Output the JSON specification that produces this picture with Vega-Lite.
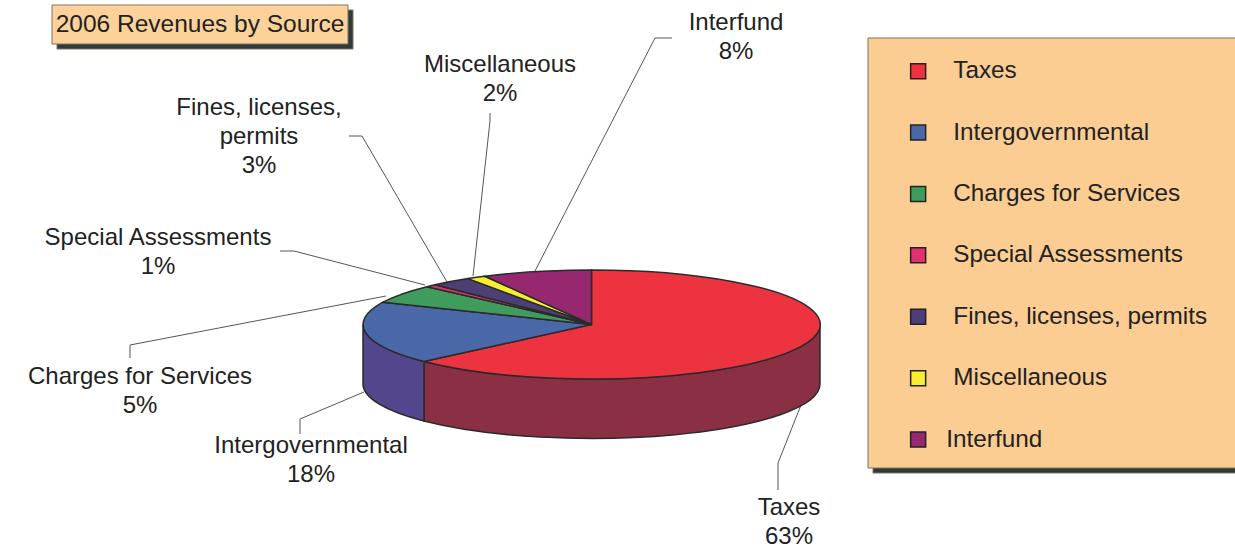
{
"$schema":"https://vega.github.io/schema/vega-lite/v6.json",
"width":1235,"height":550,"padding":0,"autosize":{"type":"none"},
"background":"white",
"config":{"view":{"stroke":null},"text":{"font":"Liberation Sans"},"legend":{"labelFont":"Liberation Sans"}},
"datasets":{
"slices":[
{"source":"Taxes","wall":"Taxes wall","share":63,"label":"Taxes\n63%","lx":789,"ly":508},
{"source":"Intergovernmental","wall":"Intergovernmental wall","share":18,"label":"Intergovernmental\n18%","lx":311,"ly":446},
{"source":"Charges for Services","share":5,"label":"Charges for Services\n5%","lx":140,"ly":377},
{"source":"Special Assessments","share":1,"label":"Special Assessments\n1%","lx":158,"ly":238},
{"source":"Fines, licenses, permits","share":3,"label":"Fines, licenses,\npermits\n3%","lx":259,"ly":108},
{"source":"Miscellaneous","share":2,"label":"Miscellaneous\n2%","lx":500,"ly":65},
{"source":"Interfund","share":8,"label":"Interfund\n8%","lx":736,"ly":23}
],
"leaders":[
{"source":"Taxes","step":1,"px":778,"py":490},{"source":"Taxes","step":2,"px":778,"py":463},{"source":"Taxes","step":3,"px":801,"py":405},
{"source":"Intergovernmental","step":1,"px":300,"py":434},{"source":"Intergovernmental","step":2,"px":300,"py":419},{"source":"Intergovernmental","step":3,"px":364,"py":392},
{"source":"Charges for Services","step":1,"px":130,"py":358},{"source":"Charges for Services","step":2,"px":130,"py":345},{"source":"Charges for Services","step":3,"px":386,"py":296},
{"source":"Special Assessments","step":1,"px":280,"py":251},{"source":"Special Assessments","step":2,"px":294,"py":251},{"source":"Special Assessments","step":3,"px":425,"py":285},
{"source":"Fines, licenses, permits","step":1,"px":349,"py":136},{"source":"Fines, licenses, permits","step":2,"px":362,"py":136},{"source":"Fines, licenses, permits","step":3,"px":447,"py":282},
{"source":"Miscellaneous","step":1,"px":490,"py":113},{"source":"Miscellaneous","step":2,"px":490,"py":121},{"source":"Miscellaneous","step":3,"px":473,"py":276},
{"source":"Interfund","step":1,"px":672,"py":38},{"source":"Interfund","step":2,"px":655,"py":38},{"source":"Interfund","step":3,"px":535,"py":271}
],
"boxes":[
{"box":"shadow","left":873,"right":1240,"top":43,"bottom":473},
{"box":"panel","left":868,"right":1240,"top":38,"bottom":468},
{"box":"shadow","left":57,"right":353,"top":10,"bottom":49},
{"box":"heading","left":52,"right":348,"top":5,"bottom":44}
]
},
"layer":[
{"data":{"name":"boxes"},"mark":{"type":"rect","stroke":"#7d7461","strokeWidth":1},
"encoding":{
"x":{"field":"left","type":"quantitative","scale":{"domain":[0,1235],"range":[0,1235],"nice":false,"zero":false},"axis":null},
"x2":{"field":"right"},
"y":{"field":"top","type":"quantitative","scale":{"domain":[0,550],"range":[0,550],"nice":false,"zero":false},"axis":null},
"y2":{"field":"bottom"},
"fill":{"field":"box","type":"nominal"}
}},
{"data":{"values":[{"heading":"2006 Revenues by Source","tx":200,"ty":25}]},"mark":{"type":"text","fontSize":24.5,"align":"center","baseline":"middle","color":"#222222"},
"encoding":{
"x":{"field":"tx","type":"quantitative","axis":null},
"y":{"field":"ty","type":"quantitative","axis":null},
"text":{"field":"heading"}
}},
{"data":{"name":"leaders"},"mark":{"type":"line","color":"#555555","strokeWidth":1},
"encoding":{
"x":{"field":"px","type":"quantitative","axis":null},
"y":{"field":"py","type":"quantitative","axis":null},
"detail":{"field":"source"},
"order":{"field":"step"}
}},
{"data":{"name":"slices"},"transform":[{"filter":"isValid(datum.wall)"}],
"mark":{"type":"point","filled":true,"size":4,"opacity":1,"stroke":"#2a2a2a","strokeWidth":1.5},
"encoding":{
"x":{"datum":591.5,"type":"quantitative","axis":null},
"y":{"datum":324.5,"type":"quantitative","axis":null},
"fill":{"field":"wall","type":"nominal"},
"shape":{"field":"wall","type":"nominal","legend":null}
}},
{"data":{"name":"slices"},
"mark":{"type":"point","filled":true,"size":4,"opacity":1,"stroke":"#2a2a2a","strokeWidth":1.5},
"encoding":{
"x":{"datum":591.5,"type":"quantitative","axis":null},
"y":{"datum":324.5,"type":"quantitative","axis":null},
"fill":{"field":"source","type":"nominal","scale":{"domain":["Taxes","Intergovernmental","Charges for Services","Special Assessments","Fines, licenses, permits","Miscellaneous","Interfund","Taxes wall","Intergovernmental wall","shadow","panel","heading"],"range":["#ee3340","#4a68a8","#3f9c5c","#e0336e","#4b3f75","#f7ee2e","#96286f","#8b3044","#54468c","#2f3a3a","#fbcd93","#fdd29a"]},
"legend":{"title":null,"values":["Taxes","Intergovernmental","Charges for Services","Special Assessments","Fines, licenses, permits","Miscellaneous","Interfund"],"orient":"none","legendX":906,"legendY":59,"padding":0,"symbolType":"square","symbolSize":225,"symbolStrokeColor":"#222222","symbolStrokeWidth":1.5,"symbolOpacity":1,"labelFontSize":24.3,"labelColor":"#222222","labelOffset":23,"rowPadding":36.4,"labelLimit":400,"encode":{"labels":{"update":{"dx":{"signal":"datum.label==='Interfund'?-7:0"}}}}}},
"shape":{"field":"source","type":"nominal","legend":null,"scale":{"domain":["Taxes","Intergovernmental","Charges for Services","Special Assessments","Fines, licenses, permits","Miscellaneous","Interfund","Taxes wall","Intergovernmental wall"],"range":[
"M0,0 L0,-54.5 A228.5,54.5 0 1 1 -167.5,37 Z",
"M0,0 L-167.5,37 A228.5,54.5 0 0 1 -208.5,-22.3 Z",
"M0,0 L-208.5,-22.3 A228.5,54.5 0 0 1 -164.5,-37.8 Z",
"M0,0 L-164.5,-37.8 A228.5,54.5 0 0 1 -156.5,-39.7 Z",
"M0,0 L-156.5,-39.7 A228.5,54.5 0 0 1 -123.5,-45.9 Z",
"M0,0 L-123.5,-45.9 A228.5,54.5 0 0 1 -106.5,-48.2 Z",
"M0,0 L-106.5,-48.2 A228.5,54.5 0 0 1 0,-54.5 Z",
"M228.5,0 A228.5,54.5 0 0 1 -167.5,37 L-167.5,96.5 A228.5,54.5 0 0 0 228.5,59.5 Z",
"M-167.5,37 A228.5,54.5 0 0 1 -228.5,0 L-228.5,59.5 A228.5,54.5 0 0 0 -167.5,96.5 Z"]}}
}},
{"data":{"name":"slices"},"mark":{"type":"text","fontSize":24,"align":"center","baseline":"middle","lineBreak":"\n","lineHeight":29,"color":"#222222"},
"encoding":{
"x":{"field":"lx","type":"quantitative","axis":null},
"y":{"field":"ly","type":"quantitative","axis":null},
"text":{"field":"label"}
}}
]
}
